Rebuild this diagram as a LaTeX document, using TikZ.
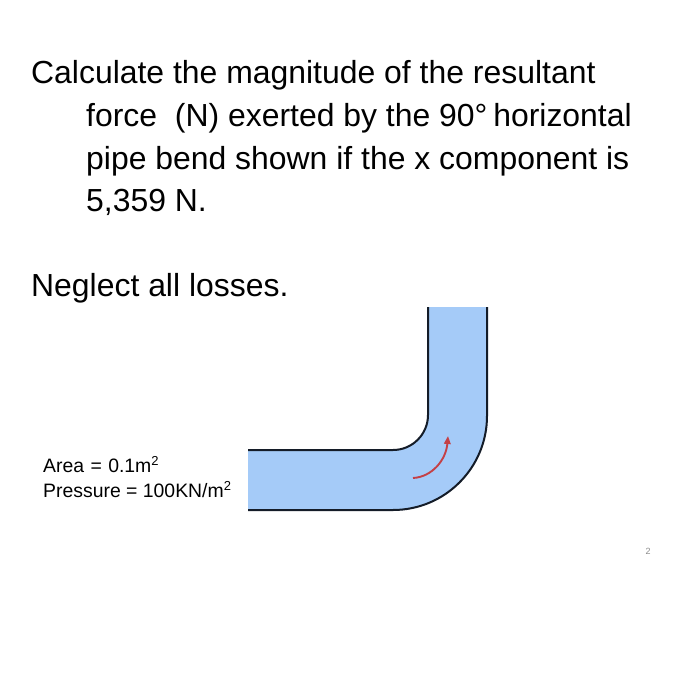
\documentclass[tikz,border=0pt]{standalone}
\usepackage{fontspec}
\setmainfont{Liberation Sans}
\usetikzlibrary{arrows.meta}
\definecolor{pipeblue}{RGB}{165,203,248}
\definecolor{wallink}{RGB}{20,28,40}
\definecolor{flowred}{RGB}{196,64,70}
\definecolor{pagenum}{RGB}{140,140,140}
\tikzset{
  big/.style={anchor=base west,inner sep=0pt,font=\fontsize{31.92}{32}\selectfont},
  small/.style={anchor=base west,inner sep=0pt,font=\fontsize{19.4}{19}\selectfont},
  wall/.style={draw=wallink,line width=2pt},
  flowarrow/.style={draw=flowred,line width=1.9pt,-{Triangle[length=8pt,width=6.5pt]}}
}
\newcommand{\supr}[1]{\raisebox{0.36em}{\fontsize{13}{13}\selectfont #1}}
\begin{document}
\begin{tikzpicture}[x=1pt,y=-1pt]
\useasboundingbox (0,0) rectangle (676,688);
\fill[white] (0,0) rectangle (676,688);
\node[big] (l1) at (31,83) {Calculate the magnitude of the resultant};
\node[big] (l2) at (86,126) {force\ \ (N) exerted by the 90°\kern-3pt\ horizontal};
\node[big] (l3) at (86,169) {pipe bend shown if the x component is};
\node[big] (l4) at (86,211) {5,359 N.};
\node[big] (l5) at (31,296) {Neglect all losses.};
\fill[pipeblue]
  (248,450) -- (393,450) .. controls (412.3,450) and (428,434.3) .. (428,415) -- (428,307)
  -- (487,307) -- (487,416) .. controls (487,467.9) and (444.9,510) .. (393,510) -- (248,510) -- cycle;
\draw[wall] (248,450) -- (393,450) .. controls (412.3,450) and (428,434.3) .. (428,415) -- (428,307);
\draw[wall] (487,307) -- (487,416) .. controls (487,467.9) and (444.9,510) .. (393,510) -- (248,510);
\draw[flowarrow] (413,478) .. controls (432,477) and (446,460) .. (448,436);
\node[small] (area) at (43,472) {Area\kern1pt\ =\kern1pt\ 0.1m\supr{2}};
\node[small] (pressure) at (43,497) {Pressure = 100KN/m\supr{2}};
\node[anchor=base,inner sep=0pt,text=pagenum,font=\fontsize{9}{9}\selectfont] (page) at (648,554) {2};
\end{tikzpicture}
\end{document}
